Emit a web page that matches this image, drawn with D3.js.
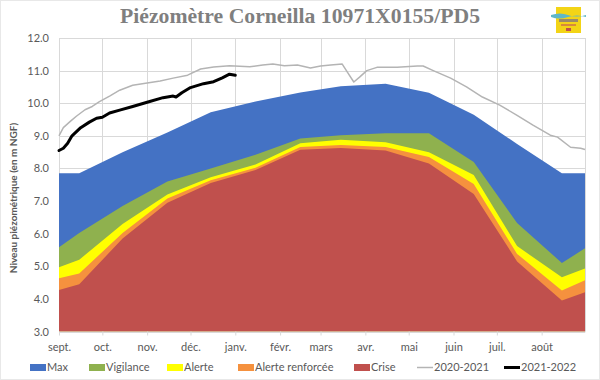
<!DOCTYPE html>
<html>
<head>
<meta charset="utf-8">
<script src="https://cdn.jsdelivr.net/npm/d3@7"></script>
<style>
  html, body { margin: 0; padding: 0; background: #fff; }
  svg { display: block; }
</style>
</head>
<body>
<svg id="chart" width="600" height="380"></svg>
<script>
// ---------- DATA ----------
const monthLabels = ["sept.","oct.","nov.","déc.","janv.","févr.","mars","avr.","mai","juin","juil.","août"];
const yTicks = [3,4,5,6,7,8,9,10,11,12];

const bandDates = ["2021-09-01","2021-09-15","2021-10-15","2021-11-15","2021-12-15","2022-01-15","2022-02-15","2022-03-15","2022-04-15","2022-05-15","2022-06-15","2022-07-15","2022-08-15","2022-08-31"];
const maxValues       = [7.85,7.85,8.50,9.10,9.72,10.05,10.33,10.52,10.60,10.32,9.65,8.75,7.85,7.85];
const vigilanceValues = [5.58,6.02,6.85,7.60,8.00,8.42,8.92,9.02,9.08,9.08,8.20,6.33,5.10,5.55];
const alerteValues    = [4.97,5.20,6.30,7.20,7.73,8.12,8.77,8.88,8.80,8.50,7.80,5.62,4.66,4.93];
const renforceeValues = [4.63,4.78,6.02,7.08,7.64,8.02,8.66,8.72,8.66,8.35,7.52,5.38,4.26,4.57];
const criseValues     = [4.27,4.45,5.85,6.95,7.55,7.95,8.57,8.63,8.55,8.15,7.22,5.15,3.95,4.20];

const dates2020 = ["2020-09-01","2020-09-04","2020-09-09","2020-09-13","2020-09-19","2020-09-24","2020-09-29","2020-10-06","2020-10-13","2020-10-22","2020-11-01","2020-11-10","2020-11-19","2020-11-29","2020-12-08","2020-12-17","2020-12-28","2021-01-11","2021-01-20","2021-01-27","2021-02-04","2021-02-13","2021-02-22","2021-03-01","2021-03-08","2021-03-16","2021-03-20","2021-03-24","2021-03-28","2021-04-02","2021-04-09","2021-04-23","2021-05-07","2021-05-11","2021-05-18","2021-05-30","2021-06-10","2021-06-21","2021-07-03","2021-07-15","2021-07-26","2021-08-07","2021-08-12","2021-08-21","2021-08-28","2021-08-31"];
const values2020 = [9.00,9.25,9.45,9.60,9.80,9.90,10.05,10.22,10.40,10.55,10.62,10.68,10.77,10.86,11.05,11.11,11.15,11.12,11.17,11.20,11.15,11.17,11.08,11.14,11.17,11.20,10.92,10.65,10.80,11.00,11.10,11.10,11.14,11.14,11.00,10.77,10.50,10.19,9.94,9.63,9.33,9.02,8.96,8.65,8.62,8.58];

const dates2021 = ["2021-09-01","2021-09-04","2021-09-07","2021-09-10","2021-09-16","2021-09-22","2021-09-27","2021-10-01","2021-10-06","2021-10-13","2021-10-22","2021-11-01","2021-11-12","2021-11-19","2021-11-21","2021-11-25","2021-12-01","2021-12-10","2021-12-17","2021-12-23","2021-12-28","2022-01-01"];
const values2021 = [8.55,8.62,8.77,9.00,9.25,9.42,9.54,9.57,9.70,9.79,9.90,10.03,10.17,10.22,10.19,10.32,10.48,10.60,10.66,10.78,10.89,10.86];

const bandNames = ["Max","Vigilance","Alerte","Alerte renforcée","Crise"];
const bandColors = ["#4472C4","#8FB14E","#FFFF00","#F5913E","#C0504D"];
const bandSeries = [maxValues, vigilanceValues, alerteValues, renforceeValues, criseValues];
const lineNames = ["2020-2021","2021-2022"];

// ---------- LAYOUT ----------
const svg = d3.select("#chart");
const W = 600, H = 380;
const plotL = 59, plotR = 585, plotT = 38, plotB = 331.5;
const textColor = "#595959";
const font = "Lato, 'Open Sans', sans-serif";
const parse = d3.timeParse("%Y-%m-%d");

svg.append("rect").attr("x",0.5).attr("y",0.5).attr("width",W-1).attr("height",H-1)
  .attr("fill","#fff").attr("stroke","#d0d0d0").attr("stroke-dasharray","1,1");

const x = d3.scaleTime().domain([parse("2021-09-01"), parse("2022-08-31")]).range([plotL, plotR]);
const y = d3.scaleLinear().domain([3, 12]).range([plotB, plotT]);

const monthStarts = d3.timeMonth.range(parse("2021-09-01"), parse("2022-08-31"));

// gridlines
const grid = svg.append("g").attr("stroke","#d9d9d9").attr("stroke-width",1);
yTicks.forEach(t => {
  const yy = Math.round(y(t)) + 0.5;
  grid.append("line").attr("x1",plotL).attr("x2",plotR).attr("y1",yy).attr("y2",yy);
});
monthStarts.concat([parse("2022-08-31")]).forEach(d => {
  const xx = Math.round(x(d)) + 0.5;
  grid.append("line").attr("x1",xx).attr("x2",xx).attr("y1",plotT).attr("y2",plotB);
});

// bands
const bandDatesP = bandDates.map(parse);
const area = d3.area()
  .x((d,i) => x(bandDatesP[i]))
  .y0(y(3))
  .y1(d => y(d));
bandSeries.forEach((vals, k) => {
  svg.append("path").attr("d", area(vals)).attr("fill", bandColors[k]);
});

// lines
const line = d3.line().x(d => x(d[0])).y(d => y(d[1]));
const pts2020 = dates2020.map((s,i) => [d3.timeYear.offset(parse(s), 1), values2020[i]]);
const pts2021 = dates2021.map((s,i) => [parse(s), values2021[i]]);
svg.append("path").attr("d", line(pts2020)).attr("fill","none")
  .attr("stroke","#b4b4b4").attr("stroke-width",1.5).attr("stroke-linejoin","round");
svg.append("path").attr("d", line(pts2021)).attr("fill","none")
  .attr("stroke","#000").attr("stroke-width",3).attr("stroke-linejoin","round").attr("stroke-linecap","round");

// axes
const yAxis = d3.axisLeft(y).tickValues(yTicks).tickFormat(d3.format(".1f")).tickSize(0).tickPadding(10);
const gy = svg.append("g").attr("transform",`translate(${plotL},0)`).call(yAxis);
gy.select(".domain").remove();
gy.selectAll("text").attr("fill",textColor).style("font-family",font).style("font-size","11px");

const xAxis = d3.axisBottom(x).tickValues(monthStarts)
  .tickFormat((d,i) => monthLabels[i]).tickSizeInner(4).tickSizeOuter(0).tickPadding(8);
const gx = svg.append("g").attr("transform",`translate(0,${plotB})`).call(xAxis);
gx.select(".domain").attr("stroke","#d9d9d9");
gx.selectAll(".tick line").attr("stroke","#d9d9d9");
gx.selectAll("text").attr("fill",textColor).style("font-family",font).style("font-size","11px");

// y label
svg.append("text")
  .attr("transform","translate(17,198) rotate(-90)")
  .attr("text-anchor","middle")
  .attr("fill",textColor)
  .style("font-family",font).style("font-size","10px").style("font-weight","bold")
  .text("Niveau piézométrique (en m NGF)");

// title
svg.append("text")
  .attr("x",300).attr("y",23)
  .attr("text-anchor","middle")
  .attr("fill","#7f7f7f")
  .style("font-family","'Liberation Serif', 'DejaVu Serif', serif")
  .style("font-size","20px").style("font-weight","bold")
  .attr("textLength",360).attr("lengthAdjust","spacingAndGlyphs")
  .text("Piézomètre Corneilla 10971X0155/PD5");

// logo
const logo = svg.append("g");
logo.append("rect").attr("x",556).attr("y",7).attr("width",25).attr("height",26).attr("fill","#F3D416");
logo.append("path").attr("d","M551,15 Q560,12 568,15 T586,15 L586,17 Q577,14 568,17 T551,17 Z").attr("fill","#5FB7C9");
logo.append("rect").attr("x",559).attr("y",19).attr("width",19).attr("height",3).attr("fill","#9a8a6a");
logo.append("rect").attr("x",561).attr("y",24).attr("width",15).attr("height",2).attr("fill","#d88a3a");
logo.append("rect").attr("x",566).attr("y",28).attr("width",5).attr("height",3).attr("fill","#c0504d");

// legend
const legendX = [30, 89, 167, 238, 354, 417, 504];
const lg = svg.append("g").style("font-family",font).style("font-size","11px");
const legendY = 367.5;
bandNames.forEach((n,i) => {
  lg.append("rect").attr("x",legendX[i]).attr("y",legendY-3.5).attr("width",16).attr("height",7).attr("fill",bandColors[i]);
  lg.append("text").attr("x",legendX[i]+17).attr("y",legendY).attr("dy","0.35em").attr("fill",textColor).text(n);
});
const lineStyles = [{c:"#b4b4b4", w:1.5},{c:"#000", w:3}];
lineNames.forEach((n,j) => {
  const i = bandNames.length + j;
  lg.append("line").attr("x1",legendX[i]).attr("x2",legendX[i]+16).attr("y1",legendY).attr("y2",legendY)
    .attr("stroke",lineStyles[j].c).attr("stroke-width",lineStyles[j].w);
  lg.append("text").attr("x",legendX[i]+17).attr("y",legendY).attr("dy","0.35em").attr("fill",textColor).text(n);
});
</script>
</body>
</html>
